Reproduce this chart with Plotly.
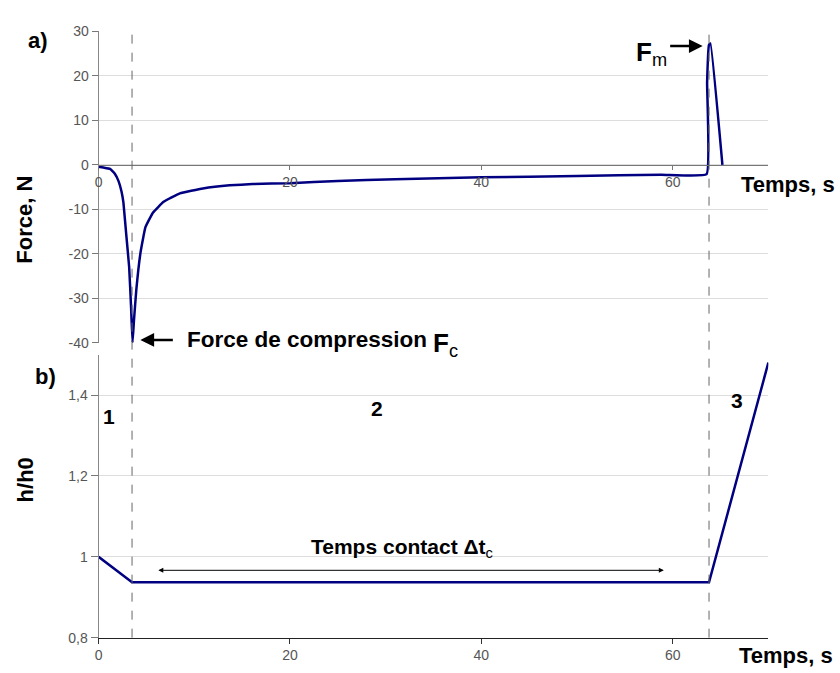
import plotly.graph_objects as go

# ---------------- data ----------------
force_t = [0, 0.5, 1.2, 1.7, 2.1, 2.4, 2.6, 2.9, 3.2, 3.4, 3.55, 3.7, 3.95, 4.4, 4.9,
           5.7, 6.8, 8.5, 10.9, 13.7, 16.1, 20, 25, 31, 40, 50, 58.8, 63.55,
           63.6, 63.8, 63.95, 65.2]
force_n = [-0.4, -0.6, -0.9, -2.0, -3.7, -6.0, -8.5, -15.8, -23.0, -32.0, -40.0, -35.0,
           -28.0, -19.5, -14.0, -10.7, -8.3, -6.4, -5.3, -4.6, -4.3, -4.1, -3.6, -3.2,
           -2.8, -2.5, -2.2, -2.1, 18.5, 27.0, 27.3, 0.0]

height_t = [0, 3.5, 63.8, 70]
height_ratio = [1.0, 0.937, 0.937, 1.48]

phase_bounds = [3.5, 63.8]

force_tickvals = [-40, -30, -20, -10, 0, 10, 20, 30]
force_ticktext = ["-40", "-30", "-20", "-10", "0", "10", "20", "30"]
time_tickvals = [0, 20, 40, 60]
ratio_tickvals = [0.8, 1.0, 1.2, 1.4]

# ---------------- layout helpers ----------------
W, H = 840, 673
def px(x):
    return x / W
def py(y):
    return 1 - y / H

X0, X1 = 95, 768
TOP0, TOP1 = 24, 343
BOT0, BOT1 = 355, 645

FONT = "Liberation Sans, Arial, sans-serif"
LINE_COLOR = "#000080"
TICK_FONT = dict(family=FONT, size=14, color="#555555")

fig = go.Figure()
fig.add_trace(go.Scatter(x=force_t, y=force_n, mode="lines",
                         line=dict(color=LINE_COLOR, width=2.5, shape="spline", smoothing=0.3),
                         xaxis="x", yaxis="y", showlegend=False))
fig.add_trace(go.Scatter(x=height_t, y=height_ratio, mode="lines",
                         line=dict(color=LINE_COLOR, width=2.5),
                         xaxis="x2", yaxis="y2", showlegend=False))

top_dom = [py(TOP1), py(TOP0)]
frange = [-40, 30]
zero_pos = top_dom[0] + (0 - frange[0]) / (frange[1] - frange[0]) * (top_dom[1] - top_dom[0])

for b in phase_bounds:
    fig.add_shape(type="line", xref="x", yref="paper", x0=b, x1=b,
                  y0=py(BOT1), y1=py(TOP0),
                  line=dict(color="#666666", width=1, dash="dash"), layer="above")

ann = []
def text(x, y, s, size=20, xanchor="center", yanchor="middle", angle=0):
    ann.append(dict(x=px(x), y=py(y), xref="paper", yref="paper", text=s,
                    showarrow=False, xanchor=xanchor, yanchor=yanchor,
                    textangle=angle, font=dict(family=FONT, size=size, color="black")))

def arrow(xh, yh, xt, yt, both=False):
    ann.append(dict(x=px(xh), y=py(yh), xref="paper", yref="paper", text="",
                    showarrow=True, ax=xt - xh, ay=yt - yh, axref="pixel", ayref="pixel",
                    arrowhead=2, arrowsize=1 if both else 1.1,
                    arrowwidth=1 if both else 2.5, arrowcolor="black",
                    arrowside="end+start" if both else "end", startarrowhead=2,
                    standoff=0, startstandoff=0))

text(34, 33, "<b>a)</b>", 22)
text(42, 377, "<b>b)</b>", 22)
text(21, 217, "<b>Force, N</b>", 22, angle=-90)
text(22, 483, "<b>h/h0</b>", 22, angle=-90)
text(788, 181, "<b>Temps, s</b>", 22)
text(786, 663, "<b>Temps, s</b>", 22)
text(106, 418, "<b>1</b>", 21)
text(375, 410, "<b>2</b>", 21)
text(737, 402, "<b>3</b>", 21)
text(182, 340, "<b>Force de compression</b>", 22.5, xanchor="left")
text(429, 345, "<b>F</b><sub>c</sub>", 26, xanchor="left")
text(633, 47, "<b>F</b><sub>m</sub>", 26, xanchor="left")
text(400, 553, "<b>Temps contact Δt</b><sub>c</sub>", 21, xanchor="center")
arrow(137, 340, 171, 340)
arrow(702, 39, 668, 39)
arrow(663, 576, 156, 576, both=True)

fig.update_layout(
    width=W, height=H, autosize=False,
    margin=dict(l=0, r=0, t=0, b=0),
    paper_bgcolor="white", plot_bgcolor="white",
    separators=", ",
    showlegend=False,
    annotations=ann,
    xaxis=dict(domain=[px(X0), px(X1)], range=[0, 70], anchor="free", position=zero_pos,
               tickvals=time_tickvals, ticks="outside", ticklen=4, tickcolor="#777777",
               showline=True, linecolor="#777777", linewidth=1, showgrid=False,
               zeroline=False, tickfont=TICK_FONT),
    yaxis=dict(domain=top_dom, range=frange, anchor="x",
               tickvals=force_tickvals, ticktext=force_ticktext,
               ticks="outside", ticklen=6, tickcolor="#777777",
               showline=True, linecolor="#888888", linewidth=1,
               showgrid=True, gridcolor="#dddddd", gridwidth=1, zeroline=False,
               tickfont=TICK_FONT),
    xaxis2=dict(domain=[px(X0), px(X1)], range=[0, 70], anchor="y2",
                tickvals=time_tickvals, ticks="outside", ticklen=5, tickcolor="#333333",
                showline=True, linecolor="#222222", linewidth=1, showgrid=False,
                zeroline=False, tickfont=TICK_FONT),
    yaxis2=dict(domain=[py(BOT1), py(BOT0)], range=[0.8, 1.5], anchor="x2",
                tickvals=ratio_tickvals, ticks="outside", ticklen=7, tickcolor="#777777",
                showline=True, linecolor="#888888", linewidth=1,
                showgrid=True, gridcolor="#dddddd", gridwidth=1, zeroline=False,
                tickfont=TICK_FONT),
)

fig.write_html("out.html", config={"displayModeBar": False},
               post_script="document.body.style.margin='0';document.body.style.overflow='hidden';")
